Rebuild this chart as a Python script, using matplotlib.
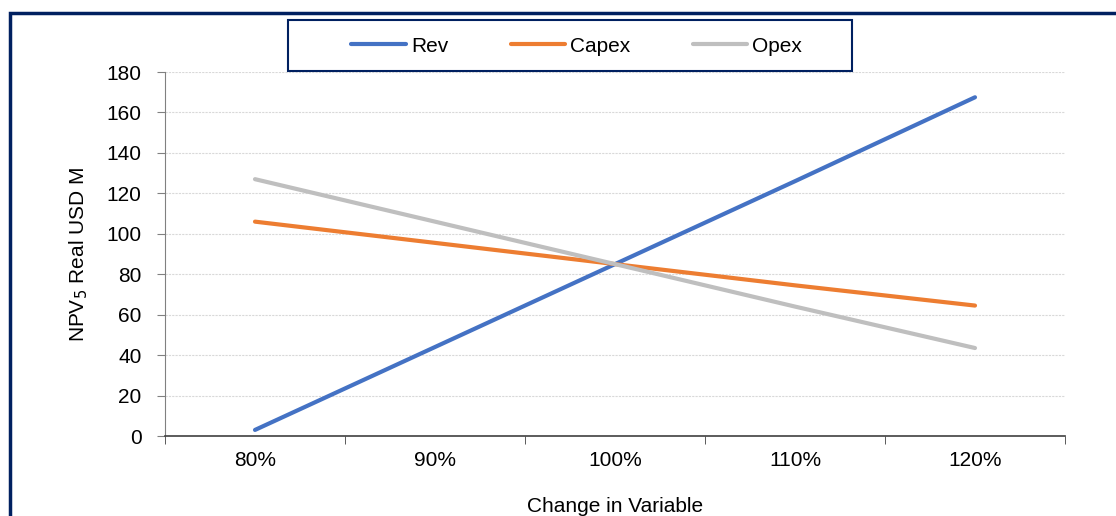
import matplotlib
matplotlib.use("Agg")
import matplotlib.pyplot as plt
from matplotlib.patches import Rectangle

plt.rcParams["font.family"] = ["Liberation Sans", "DejaVu Sans"]

categories = ["80%", "90%", "100%", "110%", "120%"]
rev = [3, 44, 85, 126, 167.5]
capex = [106, 95.5, 85, 74.5, 64.5]
opex = [127, 106, 85, 64, 43.5]
y_ticks = [0, 20, 40, 60, 80, 100, 120, 140, 160, 180]

W, H = 1116, 516
fs = 15
fig = plt.figure(figsize=(W / 100, H / 100), dpi=100)
ax = fig.add_axes([165 / W, 1 - 436 / H, 900 / W, 364 / H])

x = list(range(len(categories)))
ax.plot(x, rev, color="#4472C4", lw=3, label="Rev", solid_capstyle="round")
ax.plot(x, capex, color="#ED7D31", lw=3, label="Capex", solid_capstyle="round")
ax.plot(x, opex, color="#BFBFBF", lw=3, label="Opex", solid_capstyle="round")

ax.set_xlim(-0.5, len(categories) - 0.5)
ax.set_ylim(0, 180)
ax.set_yticks(y_ticks)
ax.set_xticks(x)
ax.set_xticklabels(categories)
ax.set_xticks([i - 0.5 for i in range(len(categories) + 1)], minor=True)
ax.tick_params(axis="x", which="major", length=0, pad=11, labelsize=fs)
ax.tick_params(axis="x", which="minor", length=6, color="#404040", direction="out")
ax.tick_params(axis="y", length=6, color="#808080", labelsize=fs, pad=11)
ax.yaxis.grid(True, color="#D9D9D9", linestyle=(0, (2, 1)), lw=0.8)
ax.set_axisbelow(True)
for s in ["top", "right"]:
    ax.spines[s].set_visible(False)
ax.spines["left"].set_color("#808080")
ax.spines["bottom"].set_color("#404040")
ax.spines["bottom"].set_linewidth(1.2)

ax.set_xlabel("Change in Variable", fontsize=fs, labelpad=19)
ax.set_ylabel("NPV$_5$ Real USD M", fontsize=fs, labelpad=12)

leg = fig.legend(loc="center left", bbox_to_anchor=(341 / W, 1 - 46 / H), ncol=3,
                 fontsize=fs, frameon=False, handlelength=2.6,
                 handletextpad=0.25, columnspacing=3.0, borderpad=0)

fig.patches.append(Rectangle((288 / W, 1 - 71 / H), 564 / W, 51 / H,
                             transform=fig.transFigure, fill=False,
                             edgecolor="#002060", lw=1.5))
fig.patches.append(Rectangle((9.5 / W, -0.1), 1.2, 1.1 - 12.5 / H,
                             transform=fig.transFigure, fill=False,
                             edgecolor="#002060", lw=2.5))

fig.savefig("out.png", dpi=100)
